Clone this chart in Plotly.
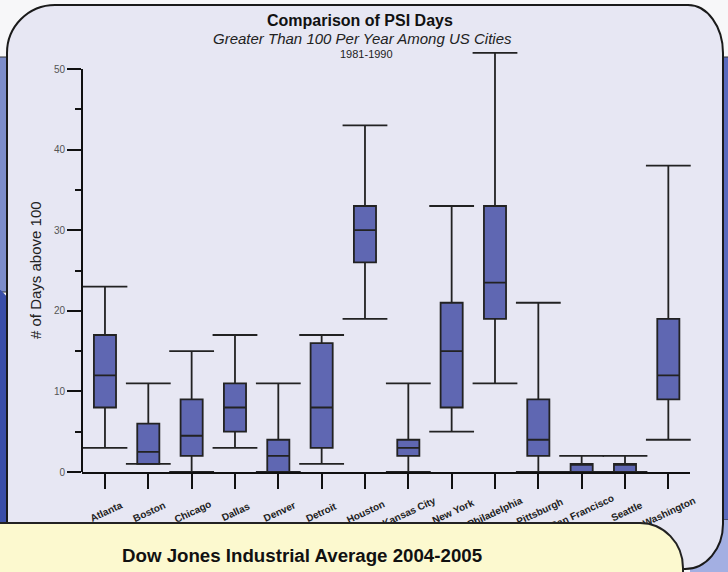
import plotly.graph_objects as go

# ---------------- data ----------------
cities = ["Atlanta", "Boston", "Chicago", "Dallas", "Denver", "Detroit", "Houston",
          "Kansas City", "New York", "Philadelphia", "Pittsburgh", "San Francisco",
          "Seattle", "Washington"]
lower = [3, 1, 0, 3, 0, 1, 19, 0, 5, 11, 0, 0, 0, 4]
q1 = [8, 1, 2, 5, 0, 3, 26, 2, 8, 19, 2, 0, 0, 9]
median = [12, 2.5, 4.5, 8, 2, 8, 30, 3, 15, 23.5, 4, 1, 1, 12]
q3 = [17, 6, 9, 11, 4, 16, 33, 4, 21, 33, 9, 1, 1, 19]
upper = [23, 11, 15, 17, 11, 17, 43, 11, 33, 52, 21, 2, 2, 38]
y_ticks = [0, 10, 20, 30, 40, 50]

title = "Comparison of PSI Days"
subtitle = "Greater Than 100 Per Year Among US Cities"
period = "1981-1990"
y_title = "# of Days above 100"
footer = "Dow Jones Industrial Average 2004-2005"

# ---------------- helpers ----------------
W, H = 728, 572
FONT = "Liberation Sans, Arial, sans-serif"


def px(x):
    return x / W


def py(y):
    return 1 - y / H


def pt(x, y):
    return f"{px(x):.5f},{py(y):.5f}"


K = 0.5523


def corner(sx, sy, cx, cy, ex, ey):
    c1 = (sx + K * (cx - sx), sy + K * (cy - sy))
    c2 = (ex + K * (cx - ex), ey + K * (cy - ey))
    return f" C{pt(*c1)} {pt(*c2)} {pt(ex, ey)}"


def rrect(x0, y0, x1, y1, tl, tr, br, bl):
    p = f"M{pt(x0 + tl[0], y0)}"
    p += f" L{pt(x1 - tr[0], y0)}"
    p += corner(x1 - tr[0], y0, x1, y0, x1, y0 + tr[1])
    p += f" L{pt(x1, y1 - br[1])}"
    p += corner(x1, y1 - br[1], x1, y1, x1 - br[0], y1)
    p += f" L{pt(x0 + bl[0], y1)}"
    p += corner(x0 + bl[0], y1, x0, y1, x0, y1 - bl[1])
    p += f" L{pt(x0, y0 + tl[1])}"
    p += corner(x0, y0 + tl[1], x0, y0, x0 + tl[0], y0)
    return p + " Z"


# approximate Arial Bold advance widths (per 1000 em) for label centring
AW = {' ': 278, 'A': 722, 'B': 722, 'C': 722, 'D': 722, 'F': 611, 'H': 722, 'K': 722,
      'N': 722, 'P': 667, 'S': 667, 'W': 944, 'Y': 667, 'a': 556, 'b': 611, 'c': 556,
      'd': 611, 'e': 556, 'g': 611, 'h': 611, 'i': 278, 'l': 278, 'n': 611, 'o': 611,
      'p': 611, 'r': 389, 's': 556, 't': 333, 'u': 611, 'v': 556, 'y': 556, 'k': 556,
      'f': 333}
LBL_SIZE = 10


def tw(s):
    return sum(AW.get(c, 556) for c in s) * LBL_SIZE / 1000


maxw = max(tw(c) for c in cities)
nb_w = 278 * LBL_SIZE / 1000
ticktext = [c + "\u00a0" * int(round((maxw - tw(c)) / 2 / nb_w)) for c in cities]

# ---------------- figure ----------------
fig = go.Figure()

fig.add_trace(go.Box(
    x=cities, q1=q1, median=median, q3=q3, lowerfence=lower, upperfence=upper,
    width=0.51, whiskerwidth=0, boxpoints=False,
    fillcolor="#5f67b2", line=dict(color="#222222", width=1.8),
    hoverinfo="skip", showlegend=False,
))
fig.add_trace(go.Scatter(
    x=cities + cities, y=upper + lower, mode="markers",
    marker=dict(symbol="line-ew", size=32, color="#222222",
                line=dict(color="#222222", width=1.8)),
    cliponaxis=False, hoverinfo="skip", showlegend=False,
))

shapes = [
    # left strip
    dict(type="rect", xref="paper", yref="paper", x0=px(-3), x1=px(10), y0=py(57), y1=py(292),
         fillcolor="#7d8dca", line=dict(color="#333333", width=1), layer="below"),
    dict(type="path", xref="paper", yref="paper",
         path=f"M{pt(-3,286)} L{pt(10,300)} L{pt(10,526)} L{pt(-3,526)} Z",
         fillcolor="#3a4ea8", line=dict(width=0), layer="below"),
    # right strip
    dict(type="rect", xref="paper", yref="paper", x0=px(712), x1=px(731), y0=py(57), y1=py(520),
         fillcolor="#5b6bbd", line=dict(color="#333333", width=1), layer="below"),
    dict(type="rect", xref="paper", yref="paper", x0=px(690), x1=px(731), y0=py(520), y1=py(575),
         fillcolor="#a3afe2", line=dict(width=0), layer="below"),
    # panel
    dict(type="path", xref="paper", yref="paper",
         path=rrect(7, 5, 723, 569, (48, 48), (35, 48), (38, 45), (40, 40)),
         fillcolor="#e7e7f3", line=dict(color="#1a1a1a", width=2), layer="below"),
    # y axis line (0..50)
    dict(type="line", xref="x domain", yref="y", x0=0, x1=0, y0=0, y1=y_ticks[-1],
         line=dict(color="#111111", width=2), layer="above"),
    # footer box
    dict(type="path", xref="paper", yref="paper",
         path=rrect(-5, 523, 683, 600, (0, 0), (43, 45), (0, 0), (0, 0)),
         fillcolor="#fcf9cf", line=dict(color="#222222", width=2), layer="above"),
]

annotations = [
    dict(text=f"<b>{title}</b>", x=px(360), y=py(21), font=dict(size=16, color="#111111")),
    dict(text=f"<i>{subtitle}</i>", x=px(362), y=py(38), font=dict(size=15, color="#222222")),
    dict(text=period, x=px(366), y=py(54), font=dict(size=11, color="#222222")),
    dict(text=y_title, x=px(35), y=py(270), textangle=-90, font=dict(size=15, color="#222222")),
    dict(text=f"<b>{footer}</b>", x=px(302), y=py(555), font=dict(size=18.7, color="#111111")),
]
for a in annotations:
    a.update(xref="paper", yref="paper", showarrow=False, xanchor="center", yanchor="middle")

y_top = 53.5
fig.update_layout(
    width=W, height=H, margin=dict(l=0, r=0, t=0, b=0, pad=0),
    paper_bgcolor="#f7f7f9", plot_bgcolor="rgba(0,0,0,0)",
    font=dict(family=FONT, color="#222222"),
    showlegend=False, shapes=shapes, annotations=annotations,
    xaxis=dict(
        domain=[px(82), px(690)], type="category", range=[-0.53, 13.5],
        categoryorder="array", categoryarray=cities,
        tickvals=cities, ticktext=ticktext, tickangle=-25,
        tickfont=dict(size=LBL_SIZE, color="#222222", family=FONT, weight="bold"),
        ticks="outside", ticklen=15, tickwidth=2, tickcolor="#111111",
        ticklabelshift=31, ticklabelstandoff=0,
        showline=True, linewidth=2, linecolor="#111111",
        showgrid=False, zeroline=False, automargin=False, fixedrange=True,
    ),
    yaxis=dict(
        domain=[py(472), py(472 - y_top * (472 - 69) / 50)], range=[0, y_top],
        tickvals=y_ticks, ticks="outside", ticklen=14, tickwidth=2, tickcolor="#111111",
        tickfont=dict(size=10, color="#555555"),
        minor=dict(ticks="outside", ticklen=6, tickwidth=1.5, tickcolor="#111111",
                   dtick=5, tick0=0),
        showline=False, showgrid=False, zeroline=False, automargin=False, fixedrange=True,
    ),
)

fig.write_html(
    "out.html",
    config={"displayModeBar": False},
    post_script="document.body.style.margin='0';document.body.style.padding='0';",
)
